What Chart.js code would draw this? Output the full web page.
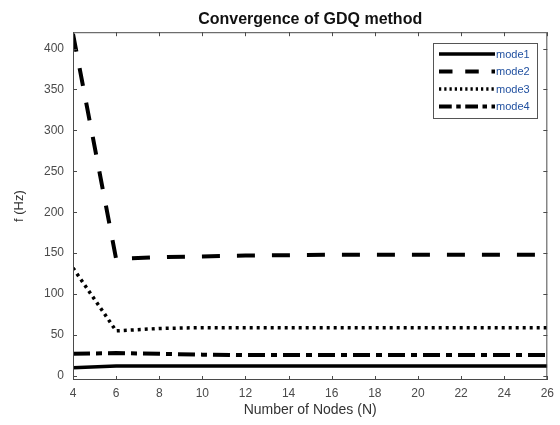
<!DOCTYPE html>
<html>
<head>
<meta charset="utf-8">
<script src="https://cdn.jsdelivr.net/npm/chart.js@4.4.1/dist/chart.umd.min.js"></script>
<style>
html,body{margin:0;padding:0;background:#fff;}
#wrap{width:560px;height:425px;position:relative;}
</style>
</head>
<body>
<div id="wrap"><canvas id="c" width="560" height="425"></canvas></div>
<script>
const nodes = [4, 6, 8, 10, 12, 14, 16, 18, 20, 22, 24, 26];
const mode1 = [10, 12, 12, 12, 12, 12, 12, 12, 12, 12, 12, 12];
const mode2 = [418, 143, 145, 146, 147, 147.5, 148, 148, 148, 148, 148, 148];
const mode3 = [132, 55, 58, 59, 59, 59, 59, 59, 59, 59, 59, 59];
const mode4 = [27, 28, 27, 26, 25.5, 25.5, 25.5, 25.5, 25.5, 25.5, 25.5, 25.5];
const seriesNames = ['mode1', 'mode2', 'mode3', 'mode4'];
const xTicks = [4, 6, 8, 10, 12, 14, 16, 18, 20, 22, 24, 26];
const yTicks = [0, 50, 100, 150, 200, 250, 300, 350, 400];

const dashes = [[], [18, 17], [3, 4], [17, 6, 6, 6]];
const widths = [3.5, 4, 3.5, 4];
const seriesData = [mode1, mode2, mode3, mode4];

const datasets = seriesData.map((arr, i) => ({
  label: seriesNames[i],
  data: arr.map((v, j) => ({x: nodes[j], y: v})),
  borderColor: '#000',
  backgroundColor: '#000',
  borderWidth: widths[i],
  borderDash: dashes[i],
  pointRadius: 0,
  tension: 0,
  fill: false
}));

const axisColor = '#4a4a4a';
const tickFont = {family: 'Liberation Sans, Arial, sans-serif', size: 12};

const framePlugin = {
  id: 'frame',
  afterDatasetsDraw(chart) {
    const {ctx, chartArea: a, scales} = chart;
    ctx.save();
    ctx.strokeStyle = axisColor;
    ctx.lineWidth = 1;
    ctx.setLineDash([]);
    ctx.strokeRect(a.left + 0.5, a.top + 0.5, a.right - a.left - 1, a.bottom - a.top - 1);
    const tl = 4;
    ctx.beginPath();
    xTicks.forEach(v => {
      const px = Math.round(scales.x.getPixelForValue(v)) + 0.5;
      ctx.moveTo(px, a.bottom); ctx.lineTo(px, a.bottom - tl);
      ctx.moveTo(px, a.top); ctx.lineTo(px, a.top + tl);
    });
    yTicks.forEach(v => {
      const py = Math.round(scales.y.getPixelForValue(v)) + 0.5;
      ctx.moveTo(a.left, py); ctx.lineTo(a.left + tl, py);
      ctx.moveTo(a.right, py); ctx.lineTo(a.right - tl, py);
    });
    ctx.stroke();

    // legend
    const lx = 433, ly = 43, lw = 104, lh = 75;
    ctx.fillStyle = '#fff';
    ctx.fillRect(lx, ly, lw, lh);
    ctx.strokeStyle = '#555';
    ctx.lineWidth = 1;
    ctx.strokeRect(lx + 0.5, ly + 0.5, lw, lh);
    ctx.font = '11px "Liberation Sans", Arial, sans-serif';
    ctx.textBaseline = 'middle';
    seriesNames.forEach((name, i) => {
      const y = ly + 11 + i * 17.5;
      ctx.strokeStyle = '#000';
      ctx.lineWidth = widths[i];
      ctx.setLineDash(dashes[i].map(d => d * 0.75));
      ctx.beginPath();
      ctx.moveTo(lx + 6, y); ctx.lineTo(lx + 62, y);
      ctx.stroke();
      ctx.setLineDash([]);
      ctx.fillStyle = '#1f4f9f';
      ctx.fillText(name, lx + 63, y + 0.5);
    });
    ctx.restore();
  }
};

new Chart(document.getElementById('c'), {
  type: 'line',
  data: {datasets},
  options: {
    responsive: false,
    animation: false,
    layout: {padding: {left: 0, right: 11, top: 0, bottom: 0}},
    plugins: {
      legend: {display: false},
      tooltip: {enabled: false},
      title: {
        display: true,
        fullSize: false,
        text: 'Convergence of GDQ method',
        color: '#111',
        font: {family: 'Liberation Sans, Arial, sans-serif', size: 16, weight: 'bold', lineHeight: 1.2},
        padding: {top: 10, bottom: 3}
      }
    },
    scales: {
      x: {
        type: 'linear',
        min: 4, max: 26,
        afterBuildTicks: s => { s.ticks = xTicks.map(v => ({value: v})); },
        afterFit: s => { s.height = 45; },
        grid: {display: false, drawTicks: false},
        border: {display: false},
        ticks: {color: axisColor, font: tickFont, padding: 6, maxRotation: 0, autoSkip: false},
        title: {display: true, text: 'Number of Nodes (N)', color: '#333',
          font: {family: 'Liberation Sans, Arial, sans-serif', size: 14}, padding: {top: 2, bottom: 6}}
      },
      y: {
        type: 'linear',
        min: -5, max: 420,
        afterBuildTicks: s => { s.ticks = yTicks.map(v => ({value: v})); },
        afterFit: s => { s.width = 73; },
        grid: {display: false, drawTicks: false},
        border: {display: false},
        ticks: {color: axisColor, font: tickFont, padding: 9, autoSkip: false},
        title: {display: true, text: 'f (Hz)', color: '#333',
          font: {family: 'Liberation Sans, Arial, sans-serif', size: 13}, padding: {top: 12, bottom: 4}}
      }
    }
  },
  plugins: [framePlugin]
});
</script>
</body>
</html>
